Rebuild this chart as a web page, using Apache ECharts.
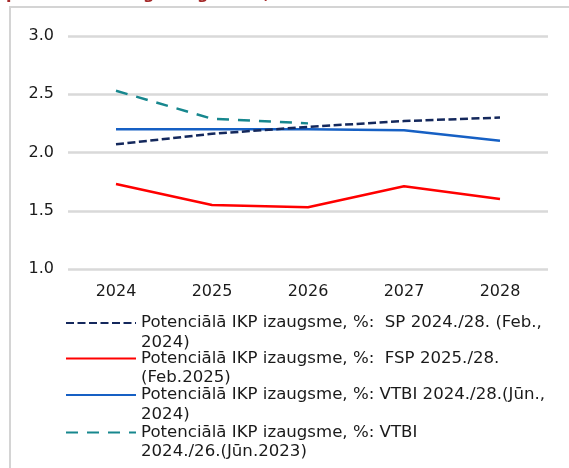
<!DOCTYPE html>
<html>
<head>
<meta charset="utf-8">
<script src="https://cdn.jsdelivr.net/npm/echarts@6/dist/echarts.min.js"></script>
<style>html,body{margin:0;padding:0;background:#fff}#c{width:569px;height:468px}</style>
</head>
<body>
<div id="c"></div>
<script>
const categories = ['2024', '2025', '2026', '2027', '2028'];
const seriesNames = [
  'Potenciālā IKP izaugsme, %:  SP 2024./28. (Feb., 2024)',
  'Potenciālā IKP izaugsme, %:  FSP 2025./28. (Feb.2025)',
  'Potenciālā IKP izaugsme, %: VTBI 2024./28.(Jūn., 2024)',
  'Potenciālā IKP izaugsme, %: VTBI 2024./26.(Jūn.2023)'
];
const legendLines = [
  ['Potenciālā IKP izaugsme, %:  SP 2024./28. (Feb.,', '2024)'],
  ['Potenciālā IKP izaugsme, %:  FSP 2025./28.', '(Feb.2025)'],
  ['Potenciālā IKP izaugsme, %: VTBI 2024./28.(Jūn.,', '2024)'],
  ['Potenciālā IKP izaugsme, %: VTBI', '2024./26.(Jūn.2023)']
];
const sp2024 = [2.07, 2.16, 2.22, 2.27, 2.30];
const fsp2025 = [1.73, 1.55, 1.53, 1.71, 1.60];
const vtbi2024 = [2.20, 2.20, 2.20, 2.19, 2.10];
const vtbi2023 = [2.53, 2.29, 2.25, null, null];
const yTicks = { min: 1.0, max: 3.0, interval: 0.5 };

const colors = ['#14285c', '#ff0000', '#1660c4', '#17878e'];
const dashes = [[8, 3.5], 'solid', 'solid', [12, 9]];
const values = [sp2024, fsp2025, vtbi2024, vtbi2023];
const legendCenters = [323, 358.5, 395, 432.5];
const LH = 19.5;

const chart = echarts.init(document.getElementById('c'), null, { renderer: 'canvas' });
const font = '"DejaVu Sans"';

const legends = seriesNames.map((n, i) => ({
  data: [n],
  orient: 'vertical',
  left: 65,
  top: legendCenters[i] - 1.5 * LH,
  padding: 0,
  itemWidth: 70,
  itemHeight: 14,
  itemGap: 8,
  itemStyle: { opacity: 0 },
  formatter: () => '\n' + legendLines[i].join('\n'),
  textStyle: { fontFamily: font, fontSize: 16.6, color: '#1a1a1a', lineHeight: LH }
}));

chart.setOption({
  animation: false,
  textStyle: { fontFamily: font },
  graphic: [
    { type: 'text', left: 6, top: -13, z: 1, style: { text: 'potenciālā izaugsme gadiem, %', font: 'bold 16px ' + font, fill: '#a52a2a' } },
    { type: 'rect', shape: { x: 10, y: 7, width: 600, height: 500 }, z: 2, silent: true, style: { fill: 'none', stroke: '#d4d4d4', lineWidth: 2 } }
  ],
  legend: legends,
  grid: { left: 68, right: 21, top: 36, bottom: 199, containLabel: false },
  xAxis: {
    type: 'category',
    data: categories,
    boundaryGap: true,
    axisLine: { show: false },
    axisTick: { show: false },
    axisLabel: { color: '#1a1a1a', fontSize: 16, margin: 15, fontFamily: font }
  },
  yAxis: {
    type: 'value',
    min: yTicks.min, max: yTicks.max, interval: yTicks.interval,
    axisLine: { show: false },
    axisTick: { show: false },
    axisLabel: { color: '#1a1a1a', fontSize: 16, margin: 14, fontFamily: font, formatter: v => v.toFixed(1) },
    splitLine: { lineStyle: { color: '#d9d9d9', width: 2.5 } }
  },
  series: seriesNames.map((n, i) => ({
    name: n,
    type: 'line',
    data: values[i],
    symbol: 'none',
    showSymbol: false,
    connectNulls: false,
    lineStyle: { color: colors[i], width: 2.5, type: dashes[i] },
    itemStyle: { color: colors[i] },
    z: 10 - i
  }))
});
</script>
</body>
</html>
